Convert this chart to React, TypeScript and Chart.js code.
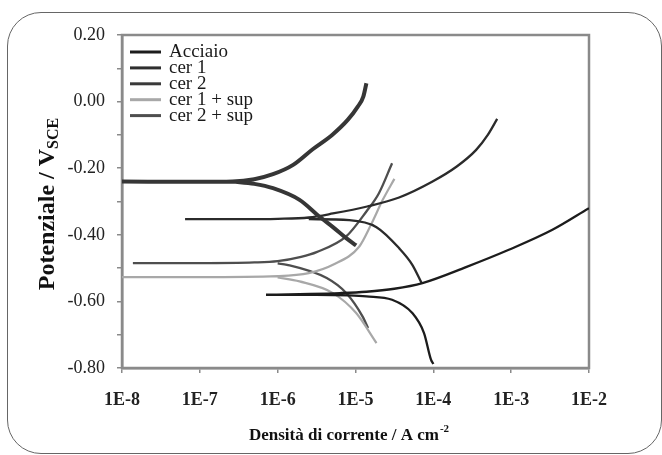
import React, { useEffect, useRef } from 'react';
import { Chart, registerables } from 'chart.js';

Chart.register(...registerables);

// ---------- data (current density in A/cm², potential in V vs SCE) ----------
// Each series: anodic branch, then null, then cathodic branch
const seriesNames = ['Acciaio', 'cer 1', 'cer 2', 'cer 1 + sup', 'cer 2 + sup'];

const acciaioCurrent = [7.08e-7, 1.91e-6, 6.31e-6, 1.38e-5, 3.16e-5, 7.24e-5, 2.63e-4, 9.33e-4, 3.39e-3, 1.0e-2, null,
  7.08e-7, 3.16e-6, 8.32e-6, 1.38e-5, 2.95e-5, 5.37e-5, 7.59e-5, 9.33e-5, 1.0e-4];
const acciaioPotential = [-0.580, -0.578, -0.575, -0.571, -0.562, -0.545, -0.497, -0.445, -0.385, -0.320, null,
  -0.580, -0.580, -0.582, -0.585, -0.595, -0.635, -0.695, -0.775, -0.788];

const cer1Current = [1e-8, 1e-7, 2.63e-7, 5.01e-7, 8.71e-7, 1.58e-6, 2.82e-6, 5.01e-6, 7.94e-6, 1.07e-5, 1.26e-5, 1.38e-5, null,
  2.63e-7, 5.01e-7, 8.71e-7, 1.91e-6, 3.47e-6, 5.13e-6, 7.59e-6, 1.02e-5];
const cer1Potential = [-0.240, -0.241, -0.240, -0.233, -0.218, -0.190, -0.143, -0.100, -0.055, -0.015, 0.015, 0.055, null,
  -0.240, -0.247, -0.260, -0.295, -0.346, -0.377, -0.410, -0.432];

const cer2Current = [6.46e-8, 3.16e-7, 1e-6, 2.51e-6, 5.13e-6, 1.41e-5, 3.63e-5, 9.77e-5, 2.0e-4, 3.55e-4, 5.01e-4, 6.61e-4, null,
  2.51e-6, 8.32e-6, 1.86e-5, 3.63e-5, 5.37e-5, 7.08e-5];
const cer2Potential = [-0.353, -0.353, -0.352, -0.348, -0.336, -0.315, -0.288, -0.240, -0.195, -0.145, -0.100, -0.052, null,
  -0.353, -0.356, -0.377, -0.440, -0.490, -0.545];

const cer1SupCurrent = [1e-8, 1e-7, 1e-6, 2.51e-6, 5.13e-6, 1.12e-5, 1.58e-5, 2.24e-5, 3.16e-5, null,
  1e-6, 1.91e-6, 5.13e-6, 1.02e-5, 1.86e-5];
const cer1SupPotential = [-0.527, -0.527, -0.524, -0.515, -0.490, -0.435, -0.370, -0.295, -0.232, null,
  -0.528, -0.540, -0.575, -0.635, -0.725];

const cer2SupCurrent = [1.38e-8, 1e-7, 5.01e-7, 1e-6, 2.0e-6, 3.16e-6, 7.59e-6, 1.38e-5, 2.0e-5, 2.95e-5, null,
  1e-6, 1.32e-6, 4.27e-6, 7.59e-6, 1.23e-5, 1.45e-5];
const cer2SupPotential = [-0.485, -0.485, -0.483, -0.479, -0.466, -0.452, -0.405, -0.330, -0.275, -0.185, null,
  -0.486, -0.490, -0.530, -0.575, -0.645, -0.680];

const xTickExponents = [-8, -7, -6, -5, -4, -3, -2];
const yTickValues = [-0.8, -0.7, -0.6, -0.5, -0.4, -0.3, -0.2, -0.1, 0, 0.1, 0.2];
const xTitle = 'Densità di corrente / A cm';
const xTitleSup = '-2';
const yTitle = 'Potenziale / V';
const yTitleSub = 'SCE';

// ---------- styles ----------
const FONT = "'Liberation Serif', 'Times New Roman', serif";
const seriesColors = ['#1c1c1c', '#363636', '#2b2b2b', '#a8a8a8', '#4e4e4e'];
const legendColors = ['#1c1c1c', '#2e2e2e', '#3a3a3a', '#a8a8a8', '#4e4e4e'];
const seriesWidths = [2.3, 4, 2.3, 2.2, 2.3];
const AXIS_GRAY = '#8a8a8a';

const seriesCurrents = [acciaioCurrent, cer1Current, cer2Current, cer1SupCurrent, cer2SupCurrent];
const seriesPotentials = [acciaioPotential, cer1Potential, cer2Potential, cer1SupPotential, cer2SupPotential];

const framePlugin = {
  id: 'frame',
  beforeDatasetsDraw(chart: any) {
    const { ctx, chartArea: a } = chart;
    ctx.save();
    ctx.strokeStyle = AXIS_GRAY;
    ctx.lineWidth = 2.5;
    ctx.strokeRect(a.left, a.top, a.right - a.left, a.bottom - a.top);
    ctx.restore();
  },
};

const legendPlugin = {
  id: 'innerLegend',
  afterDraw(chart: any) {
    const { ctx } = chart;
    ctx.save();
    ctx.font = `19px ${FONT}`;
    ctx.textBaseline = 'middle';
    ctx.textAlign = 'left';
    seriesNames.forEach((name, k) => {
      const y = 52 + k * 15.9;
      ctx.strokeStyle = legendColors[k];
      ctx.lineWidth = 3;
      ctx.beginPath();
      ctx.moveTo(130, y);
      ctx.lineTo(161, y);
      ctx.stroke();
      ctx.fillStyle = '#1a1a1a';
      ctx.fillText(name, 169, y + 0.5);
    });
    ctx.restore();
  },
};

const titlesPlugin = {
  id: 'axisTitles',
  afterDraw(chart: any) {
    const { ctx } = chart;
    ctx.save();
    ctx.fillStyle = '#111';
    ctx.textBaseline = 'alphabetic';
    ctx.textAlign = 'left';
    // x title
    ctx.font = `bold 17px ${FONT}`;
    const w1 = ctx.measureText(xTitle).width;
    ctx.font = `bold 11px ${FONT}`;
    const w2 = ctx.measureText(xTitleSup).width;
    const cx = 349;
    const x0 = cx - (w1 + w2 + 1) / 2;
    ctx.font = `bold 17px ${FONT}`;
    ctx.fillText(xTitle, x0, 440);
    ctx.font = `bold 11px ${FONT}`;
    ctx.fillText(xTitleSup, x0 + w1 + 1, 432);
    // y title
    ctx.translate(54, 204);
    ctx.rotate(-Math.PI / 2);
    ctx.font = `bold 24px ${FONT}`;
    const v1 = ctx.measureText(yTitle).width;
    ctx.font = `bold 16px ${FONT}`;
    const v2 = ctx.measureText(yTitleSub).width;
    const y0 = -(v1 + v2) / 2;
    ctx.font = `bold 24px ${FONT}`;
    ctx.fillText(yTitle, y0, 0);
    ctx.font = `bold 16px ${FONT}`;
    ctx.fillText(yTitleSub, y0 + v1, 4);
    ctx.restore();
  },
};

export default function App() {
  const ref = useRef<HTMLCanvasElement>(null);

  useEffect(() => {
    document.body.style.margin = '0';
    const datasets = seriesNames.map((name, k) => ({
      label: name,
      data: seriesCurrents[k].map((c, j) => ({
        x: c === null ? 1e-6 : c,
        y: seriesPotentials[k][j],
      })),
      showLine: true,
      borderColor: seriesColors[k],
      backgroundColor: seriesColors[k],
      borderWidth: seriesWidths[k],
      pointRadius: 0,
      cubicInterpolationMode: 'monotone',
      fill: false,
      spanGaps: false,
    }));

    const chart = new Chart(ref.current as HTMLCanvasElement, {
      type: 'scatter',
      data: { datasets: datasets as any },
      options: {
        animation: false,
        responsive: false,
        devicePixelRatio: 1,
        events: [],
        layout: { padding: { top: 35, right: 73, left: 0, bottom: 0 } },
        plugins: { legend: { display: false }, tooltip: { enabled: false }, title: { display: false } },
        scales: {
          x: {
            type: 'logarithmic',
            min: 1e-8,
            max: 1e-2,
            position: 'bottom',
            afterBuildTicks: (s: any) => {
              s.ticks = xTickExponents.map((e) => ({ value: Math.pow(10, e) }));
            },
            afterFit: (s: any) => {
              s.height = 87;
            },
            grid: { display: true, drawOnChartArea: false, drawTicks: true, tickLength: 5, color: AXIS_GRAY, lineWidth: 1.5 },
            border: { display: true, color: AXIS_GRAY, width: 2.5 },
            ticks: {
              autoSkip: false,
              maxRotation: 0,
              minRotation: 0,
              padding: 17,
              color: '#222',
              font: { family: FONT, size: 18, weight: 'bold' },
              callback: (v: any) => '1E' + Math.round(Math.log10(Number(v))),
            },
          },
          y: {
            type: 'linear',
            min: -0.8,
            max: 0.2,
            afterBuildTicks: (s: any) => {
              s.ticks = yTickValues.map((v) => ({ value: v }));
            },
            afterFit: (s: any) => {
              s.width = 122;
            },
            grid: { display: true, drawOnChartArea: false, drawTicks: true, tickLength: 5, color: AXIS_GRAY, lineWidth: 1.5 },
            border: { display: true, color: AXIS_GRAY, width: 2.5 },
            ticks: {
              autoSkip: false,
              padding: 12,
              color: '#222',
              font: { family: FONT, size: 18 },
              callback: (v: any) => {
                const r = Math.round(Number(v) * 10);
                return r % 2 === 0 ? (r / 10).toFixed(2) : '';
              },
            },
          },
        },
      } as any,
      plugins: [framePlugin, legendPlugin, titlesPlugin],
    });
    return () => chart.destroy();
  }, []);

  return (
    <div style={{ position: 'relative', width: 662, height: 455, background: '#fff', overflow: 'hidden' }}>
      <div
        style={{
          position: 'absolute',
          left: 7,
          top: 12,
          width: 655,
          height: 442,
          border: '1.5px solid #666',
          borderRadius: 34,
          boxSizing: 'border-box',
        }}
      />
      <canvas ref={ref} width={662} height={455} style={{ position: 'absolute', left: 0, top: 0, width: 662, height: 455 }} />
    </div>
  );
}
